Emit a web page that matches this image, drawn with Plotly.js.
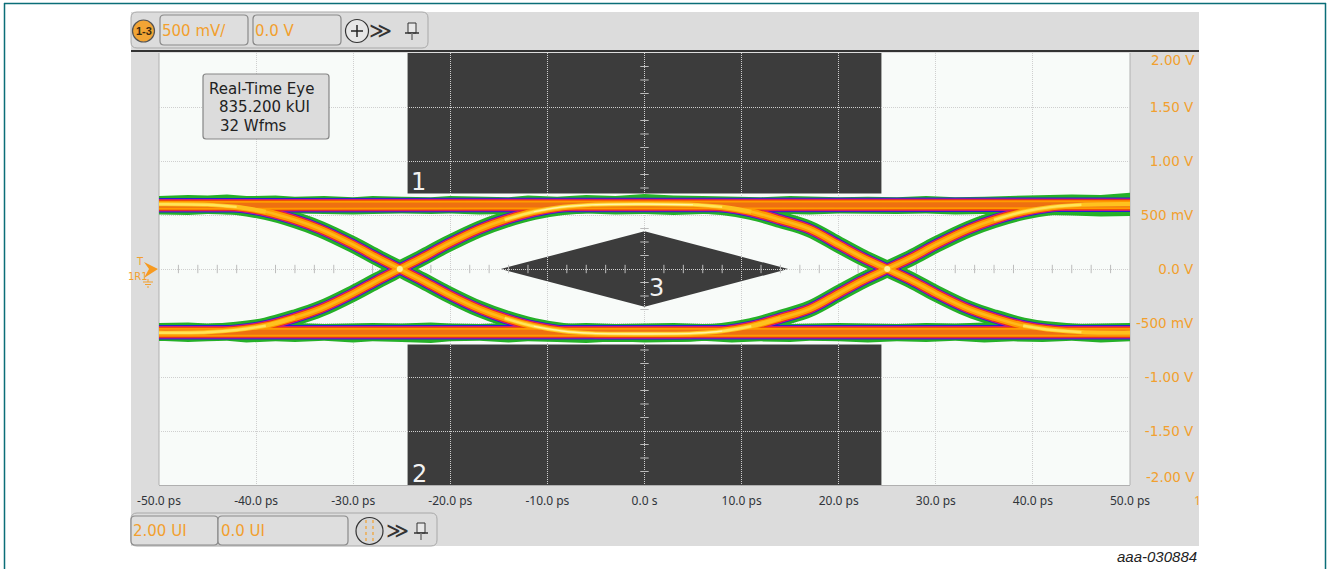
<!DOCTYPE html>
<html>
<head>
<meta charset="utf-8">
<script src="https://cdn.plot.ly/plotly-3.0.1.min.js"></script>
<style>html,body{margin:0;padding:0;background:#fff}#c{width:1327px;height:569px}</style>
</head>
<body>
<div id="c"></div>
<script>
// ---- axis labels ----
const timeTicks = [-50,-40,-30,-20,-10,0,10,20,30,40,50];
const timeLabels = ["-50.0 ps","-40.0 ps","-30.0 ps","-20.0 ps","-10.0 ps","0.0 s","10.0 ps","20.0 ps","30.0 ps","40.0 ps","50.0 ps"];
const voltTicks = [1.5,1,0.5,0,-0.5,-1,-1.5];
const voltLabels = ["1.50 V","1.00 V","500 mV","0.0 V","-500 mV","-1.00 V","-1.50 V"];
const minorTimeTicks = [-48,-46,-44,-42,-38,-36,-34,-32,-28,-26,-24,-22,-18,-16,-14,-12,-8,-6,-4,-2,2,4,6,8,12,14,16,18,22,24,26,28,32,34,36,38,42,44,46,48];
const minorVoltTicks = [1.875,1.75,1.625,1.375,1.25,1.125,0.875,0.75,0.625,0.375,0.25,0.125,-0.125,-0.25,-0.375,-0.625,-0.75,-0.875,-1.125,-1.25,-1.375,-1.625,-1.75,-1.875];

// ---- mask regions (ps, V) ----
const maskTopTime = [-24.4,24.4,24.4,-24.4];
const maskTopVolt = [2,2,0.7,0.7];
const maskBottomTime = [-24.4,24.4,24.4,-24.4];
const maskBottomVolt = [-0.7,-0.7,-2,-2];
const maskCentreTime = [-14.8,0,14.8,0];
const maskCentreVolt = [0,0.35,0,-0.35];

// ---- eye traces (ps, V) ----
const railTime = [-50,-35,-20,0,20,35,50];
const railHigh = [0.59,0.59,0.59,0.59,0.59,0.59,0.595];
const railLow = [-0.585,-0.585,-0.585,-0.585,-0.585,-0.585,-0.585];
const edgeTime = [-50,-45,-42,-39,-36,-33.4,-30,-27.5,-25.2,-22.9,-20.4,-17,-14.4,-11.4,-8.4,-5.4,0,5,8,11,14,17,20,22.5,25,27.5,30,33.4,36,39,42,45,50];
const fallRise = [0.6,0.595,0.575,0.53,0.455,0.37,0.225,0.105,0,-0.105,-0.225,-0.37,-0.455,-0.53,-0.575,-0.595,-0.6,-0.595,-0.575,-0.53,-0.455,-0.37,-0.225,-0.105,0,0.105,0.225,0.37,0.455,0.53,0.575,0.595,0.6];
const riseFall = [-0.59,-0.585,-0.565,-0.525,-0.45,-0.37,-0.225,-0.105,0,0.105,0.225,0.37,0.455,0.53,0.575,0.595,0.6,0.595,0.575,0.53,0.455,0.37,0.225,0.105,0,-0.105,-0.225,-0.37,-0.45,-0.525,-0.565,-0.585,-0.59];
// brightest stretches where the traces bunch up
const glowHighLeftTime = [-50,-45,-42,-39];
const glowHighLeft = [0.6,0.595,0.575,0.53];
const glowHighMidTime = [-14.4,-11.4,-8.4,-5.4,0,5,8,11];
const glowHighMid = [0.455,0.53,0.575,0.595,0.6,0.595,0.575,0.53];
const glowHighRightTime = [36,39,42,45,50];
const glowHighRight = [0.455,0.53,0.575,0.595,0.6];
const glowLowLeftTime = [-50,-45,-42,-39,-36];
const glowLowLeft = [-0.59,-0.585,-0.565,-0.525,-0.45];
const glowLowMidTime = [-14.4,-11.4,-8.4,-5.4,0,5,8,11,14];
const glowLowMid = [-0.455,-0.53,-0.575,-0.595,-0.6,-0.595,-0.575,-0.53,-0.455];
const glowLowRightTime = [39,42,45,50];
const glowLowRight = [-0.525,-0.565,-0.585,-0.59];
const crossTime = [-25.2,25];
const crossVolt = [0,0];
// irregular outer edge of the hit population
const fuzzTime = [-50,-47,-45,-43,-41,-38,-36,-33,-30,-28,-25,-22,-20,-17,-14,-12,-9,-6,-3,0,3,6,9,12,15,17,20,23,26,29,32,35,38,41,44,47,50];
const fuzzHighUp = [0.675,0.685,0.68,0.69,0.675,0.68,0.67,0.675,0.665,0.675,0.67,0.665,0.675,0.67,0.665,0.68,0.67,0.685,0.675,0.695,0.68,0.675,0.67,0.665,0.675,0.67,0.665,0.67,0.665,0.675,0.665,0.67,0.675,0.68,0.69,0.685,0.705];
const fuzzHighDown = [0.505,0.5,0.51,0.505,0.515,0.51,0.515,0.51,0.505,0.51,0.515,0.51,0.515,0.505,0.51,0.51,0.505,0.515,0.505,0.51,0.5,0.51,0.505,0.515,0.51,0.505,0.515,0.51,0.51,0.515,0.505,0.51,0.505,0.5,0.495,0.485,0.49];
const fuzzLowUp = [-0.5,-0.495,-0.505,-0.5,-0.51,-0.505,-0.5,-0.51,-0.505,-0.5,-0.505,-0.495,-0.505,-0.51,-0.5,-0.505,-0.51,-0.5,-0.51,-0.505,-0.5,-0.51,-0.505,-0.5,-0.51,-0.505,-0.5,-0.505,-0.51,-0.5,-0.505,-0.495,-0.505,-0.5,-0.51,-0.505,-0.5];
const fuzzLowDown = [-0.665,-0.675,-0.67,-0.665,-0.68,-0.67,-0.675,-0.665,-0.68,-0.67,-0.675,-0.685,-0.67,-0.665,-0.68,-0.67,-0.675,-0.685,-0.67,-0.68,-0.675,-0.665,-0.68,-0.67,-0.675,-0.665,-0.67,-0.68,-0.67,-0.675,-0.665,-0.68,-0.67,-0.675,-0.665,-0.68,-0.67];

// ---- page geometry helpers ----
const L=159,T=53,PW=1040,PH=432;
const fx=p=>(p-L)/PW, fy=p=>(T+PH-p)/PH;
const ORANGE='#f2a02e';
const shapesBelow=[], shapesAbove=[], notes=[];
function rect(x0,y0,x1,y1,fill,line,layer){(layer==='above'?shapesAbove:shapesBelow).push({type:'rect',xref:'paper',yref:'paper',x0:fx(x0),x1:fx(x1),y0:fy(y0),y1:fy(y1),fillcolor:fill,line:{color:line||fill,width:line?1:0},layer:layer||'below'});}
function rr(x0,y0,x1,y1,r,fill,line,w,layer){
  const X=fx,Y=fy;
  const d=`M${X(x0+r)},${Y(y0)}L${X(x1-r)},${Y(y0)}Q${X(x1)},${Y(y0)} ${X(x1)},${Y(y0+r)}L${X(x1)},${Y(y1-r)}Q${X(x1)},${Y(y1)} ${X(x1-r)},${Y(y1)}L${X(x0+r)},${Y(y1)}Q${X(x0)},${Y(y1)} ${X(x0)},${Y(y1-r)}L${X(x0)},${Y(y0+r)}Q${X(x0)},${Y(y0)} ${X(x0+r)},${Y(y0)}Z`;
  (layer==='above'?shapesAbove:shapesBelow).push({type:'path',xref:'paper',yref:'paper',path:d,fillcolor:fill,line:{color:line,width:w||1},layer:layer||'below'});
}
function circ(cx,cy,r,fill,line,w){shapesBelow.push({type:'circle',xref:'paper',yref:'paper',x0:fx(cx-r),x1:fx(cx+r),y0:fy(cy+r),y1:fy(cy-r),fillcolor:fill,line:{color:line,width:w||1},layer:'below'});}
function seg(x0,y0,x1,y1,color,w,dash){shapesBelow.push({type:'line',xref:'paper',yref:'paper',x0:fx(x0),x1:fx(x1),y0:fy(y0),y1:fy(y1),line:{color:color,width:w||1,dash:dash||'solid'},layer:'below'});}
function poly(pts,fill){const d=pts.map((p,i)=>(i?'L':'M')+fx(p[0])+','+fy(p[1])).join('')+'Z';shapesBelow.push({type:'path',xref:'paper',yref:'paper',path:d,fillcolor:fill,line:{width:0},layer:'below'});}
function note(text,x,y,size,color,anchor,family,extra){notes.push(Object.assign({xref:'paper',yref:'paper',x:fx(x),y:fy(y),text:text,showarrow:false,xanchor:anchor||'left',yanchor:'middle',font:{size:size,color:color,family:family||'DejaVu Sans'},borderpad:0},extra||{}));}
function maskPath(t,v){return t.map((a,i)=>(i?'L':'M')+a+','+v[i]).join('')+'Z';}

// frame and panels
seg(4.5,3,4.5,569,'#0b6e78',1.5); seg(4,3.5,1326,3.5,'#0b6e78',1.5); seg(1325.5,3,1325.5,569,'#0b6e78',1.5);
rect(131,12,1199,546,'#dcdcdc');
rect(159,53,1130,485,'#f8fbf9');
seg(131,51,1199,51,'#333333',2);
seg(159,53,159,485,'#b0b0b0',1); seg(1130,53,1130,485,'#b0b0b0',1);

// top toolbar
rr(131,12,428,48,6,'#dcdcdc','#a8a8a8',1);
circ(143.5,31,11,'#f2a535','#555555',1.2);
note('<b>1-3</b>',143.5,31,11,'#3a2a10','center','Liberation Sans');
rr(160,15,248,45,4,'#dedede','#8a8a8a',1.2);
rr(253,15,341,45,4,'#dedede','#8a8a8a',1.2);
note('500 mV/',161,30.5,15,ORANGE);
note('0.0 V',254,30.5,15,ORANGE);
circ(357,31,11.5,'#e6e6e6','#333333',1.2);
seg(351,31,363,31,'#222222',1.5); seg(357,25,357,37,'#222222',1.5);
note('≫',380,30,22,'#333333','center','DejaVu Sans');
rect(408,23,416,33,'#e8e8e8','#333333'); seg(405,33,419,33,'#333333',1.5); seg(412,33,412,40,'#777777',1.5);

// bottom toolbar
rr(131,513,437,546,6,'#dcdcdc','#a8a8a8',1);
rr(131,516,218,545,4,'#dedede','#8a8a8a',1.2);
rr(218,516,348,545,4,'#dedede','#8a8a8a',1.2);
note('2.00 UI',132,531,15,ORANGE);
note('0.0 UI',220,531,15,ORANGE);
circ(369.5,531,13.5,'#d6d6d6','#333333',1.2);
seg(366,520,366,542,ORANGE,1.2,'dot'); seg(373,520,373,542,ORANGE,1.2,'dot');
note('≫',397,530,22,'#333333','center','DejaVu Sans');
rect(417,523,425,533,'#e8e8e8','#333333'); seg(414,533,428,533,'#333333',1.5); seg(421,533,421,540,'#777777',1.5);

// trigger and ground markers
poly([[144,262],[158,269],[144,278],[149,269]],'#f79a20');
note('T',140,261,10,ORANGE,'center','DejaVu Sans');
note('1R1',138,276,10,ORANGE,'center','DejaVu Sans');
seg(148,279,148,282,ORANGE,1); seg(143,282,153,282,ORANGE,1); seg(145,284.5,151,284.5,ORANGE,1); seg(147,287,149,287,ORANGE,1);

// info box
rr(203,74,329,139,3,'#dcdcdc','#858585',1.2,'above');
note('Real-Time Eye',208,89,15,'#222222','left','DejaVu Sans');
note('835.200 kUI',218,107,15,'#222222','left','DejaVu Sans');
note('32 Wfms',219,126,15,'#222222','left','DejaVu Sans');

// mask numbers and other text
note('1',418,182,24,'#f2f2f2','center','DejaVu Sans');
note('2',419,474,24,'#f2f2f2','center','DejaVu Sans');
note('3',656,288,24,'#f2f2f2','center','DejaVu Sans');
note('1',1197,500,12,ORANGE,'center','Noto Sans');
note('aaa-030884',1198,556,15,'#222222','right','Liberation Sans',{});
notes[notes.length-1].font.style='italic';
note('2.00 V',1196,60,13.5,ORANGE,'right');
note('-2.00 V',1196,477,13.5,ORANGE,'right');

// mask regions, below the native grid
[[maskTopTime,maskTopVolt],[maskBottomTime,maskBottomVolt],[maskCentreTime,maskCentreVolt]].forEach(m=>{
  shapesBelow.push({type:'path',xref:'x',yref:'y',path:maskPath(m[0],m[1]),fillcolor:'#3c3c3c',line:{width:0},layer:'below'});
});

// ---- traces ----
const traces=[];
traces.push({x:minorTimeTicks,y:minorTimeTicks.map(()=>0),mode:'markers',marker:{symbol:'line-ns',size:6,line:{width:1,color:'#bcbcbc'}},hoverinfo:'skip'});
traces.push({x:minorVoltTicks.map(()=>0),y:minorVoltTicks,mode:'markers',marker:{symbol:'line-ew',size:6,line:{width:1,color:'#bcbcbc'}},hoverinfo:'skip'});

const stackRail=[['#2a1fd0',14.5],['#d01890',12.5],['#e8340f',11],['#ff9a00',9]];
const stackEdge=[['#2a1fd0',11],['#d01890',9.5],['#e8340f',8],['#ff9a00',6.5]];
function line(x,y,color,width,spline){traces.push({x:x,y:y,mode:'lines',line:{color:color,width:width,shape:spline?'spline':'linear',smoothing:1},hoverinfo:'skip'});}
function band(up,down){traces.push({x:fuzzTime.concat(fuzzTime.slice().reverse()),y:up.concat(down.slice().reverse()),mode:'lines',fill:'toself',fillcolor:'#25b028',line:{width:0,color:'#25b028'},hoverinfo:'skip'});}
band(fuzzHighUp,fuzzHighDown);
band(fuzzLowUp,fuzzLowDown);
line(edgeTime,fallRise,'#25b028',16.5,true);
line(edgeTime,riseFall,'#25b028',16.5,true);
for(let i=0;i<stackRail.length;i++){
  line(railTime,railHigh,stackRail[i][0],stackRail[i][1],false);
  line(railTime,railLow,stackRail[i][0],stackRail[i][1],false);
  line(edgeTime,fallRise,stackEdge[i][0],stackEdge[i][1],true);
  line(edgeTime,riseFall,stackEdge[i][0],stackEdge[i][1],true);
}
line(railTime,railHigh,'#ee7010',5,false);
line(railTime,railLow,'#ee7010',5,false);
line(edgeTime,fallRise,'#ffb81a',2.6,true);
line(edgeTime,riseFall,'#ffb81a',2.6,true);
[[glowHighLeftTime,glowHighLeft],[glowHighMidTime,glowHighMid],[glowHighRightTime,glowHighRight],[glowLowLeftTime,glowLowLeft],[glowLowMidTime,glowLowMid],[glowLowRightTime,glowLowRight]].forEach(g=>{
  line(g[0],g[1],'#ffc21e',4.2,true);
  line(g[0].slice(0,-1),g[1].slice(0,-1),'#ffe45a',2.4,true);
  if(g[0].length>5){line(g[0].slice(1,-2),g[1].slice(1,-2),'#fff4a8',1.2,true);}
});
traces.push({x:crossTime,y:crossVolt,mode:'markers',marker:{symbol:'circle',size:6,color:'#fff2a0',line:{width:0}},hoverinfo:'skip'});

const layout={
  width:1327,height:569,autosize:false,showlegend:false,
  paper_bgcolor:'#ffffff',plot_bgcolor:'#f8fbf9',
  margin:{l:L,r:1327-L-PW,t:T,b:569-T-PH,pad:0},
  xaxis:{domain:[0,971/PW],range:[-50,50],tickmode:'array',tickvals:timeTicks,ticktext:timeLabels,
    showgrid:true,gridcolor:'#cfcfcf',griddash:'1px,1px',gridwidth:1,zeroline:false,showline:true,linecolor:'#b0b0b0',
    ticks:'outside',ticklen:5,tickcolor:'rgba(0,0,0,0)',tickfont:{family:'Noto Sans',size:12,color:'#30343a'},fixedrange:true},
  yaxis:{range:[-2,2],side:'left',anchor:'free',position:1,tickmode:'array',tickvals:voltTicks,ticktext:voltLabels,
    showgrid:true,gridcolor:'#cfcfcf',griddash:'1px,1px',gridwidth:1,zeroline:false,showline:false,
    ticks:'outside',ticklen:3,tickcolor:'rgba(0,0,0,0)',tickfont:{family:'DejaVu Sans',size:13.5,color:ORANGE},fixedrange:true},
  shapes:shapesBelow.concat(shapesAbove),
  annotations:notes
};
Plotly.newPlot('c',traces,layout,{displayModeBar:false,staticPlot:true});
</script>
</body>
</html>
